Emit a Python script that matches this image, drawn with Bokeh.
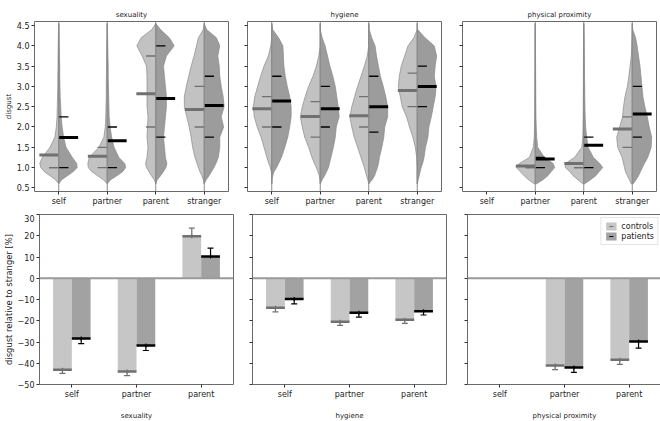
import math
from bokeh.plotting import figure
from bokeh.layouts import column, row
from bokeh.models import (Span, FixedTicker, CustomJSTickFormatter, Whisker, TeeHead,
                          ColumnDataSource, Legend, LegendItem, Range1d, CustomLabelingPolicy)
from bokeh.embed import file_html
from bokeh.resources import INLINE

NaN = float("nan")

# ---------------- data ----------------
DOMAINS = ["sexuality", "hygiene", "physical proximity"]
VIOLIN_CATS = ["self", "partner", "parent", "stranger"]
BAR_CATS = ["self", "partner", "parent"]
GROUPS = ["controls", "patients"]

Y_TICKS_TOP = [0.5, 1.0, 1.5, 2.0, 2.5, 3.0, 3.5, 4.0, 4.5]
Y_TICKS_BOT = [-50, -40, -30, -20, -10, 0, 10, 20, 30]
Y_TICK_LABELS_BOT = ["\u221250", "\u221240", "\u221230", "\u221220", "\u221210", "0", "10", "20", "30"]

# disgust levels at which the violin half-widths were read
Y_GRID = [0.6, 0.7, 0.8, 0.9, 1.0, 1.1, 1.25, 1.5, 1.75, 2.0, 2.25, 2.5, 2.75,
          3.0, 3.25, 3.5, 3.75, 4.0, 4.2, 4.4, 4.55]

# half-widths of the split violins (category order: self, partner, parent, stranger)
SEX_CONTROLS_WIDTH = [
    [0, 0.07, 0.18, 0.30, 0.37, 0.39, 0.34, 0.18, 0.08, 0.05, 0.035, 0.03, 0.025, 0.02, 0.02, 0.015, 0.015, 0.01, 0.008, 0.004, 0],
    [0, 0.08, 0.20, 0.32, 0.39, 0.40, 0.37, 0.17, 0.07, 0.04, 0.03, 0.025, 0.02, 0.02, 0.018, 0.015, 0.013, 0.01, 0.008, 0.004, 0],
    [0, 0.03, 0.09, 0.14, 0.19, 0.21, 0.18, 0.16, 0.18, 0.17, 0.16, 0.18, 0.18, 0.18, 0.18, 0.19, 0.28, 0.39, 0.30, 0.08, 0],
    [0, 0.02, 0.05, 0.09, 0.12, 0.15, 0.19, 0.24, 0.27, 0.31, 0.36, 0.41, 0.41, 0.37, 0.32, 0.27, 0.21, 0.16, 0.12, 0.02, 0],
]
SEX_PATIENTS_WIDTH = [
    [0, 0.06, 0.18, 0.30, 0.38, 0.37, 0.28, 0.15, 0.10, 0.07, 0.05, 0.04, 0.03, 0.025, 0.02, 0.02, 0.015, 0.01, 0.008, 0.004, 0],
    [0, 0.07, 0.20, 0.32, 0.38, 0.36, 0.24, 0.14, 0.09, 0.06, 0.04, 0.035, 0.03, 0.025, 0.02, 0.02, 0.015, 0.01, 0.008, 0.004, 0],
    [0, 0.03, 0.10, 0.16, 0.21, 0.23, 0.20, 0.18, 0.16, 0.18, 0.20, 0.22, 0.22, 0.20, 0.18, 0.16, 0.22, 0.38, 0.28, 0.10, 0],
    [0, 0.04, 0.10, 0.15, 0.20, 0.24, 0.29, 0.32, 0.32, 0.40, 0.35, 0.41, 0.39, 0.35, 0.32, 0.31, 0.28, 0.32, 0.25, 0.05, 0],
]
HYG_CONTROLS_WIDTH = [
    [0, 0, 0, 0.01, 0.03, 0.06, 0.10, 0.16, 0.22, 0.30, 0.36, 0.38, 0.35, 0.29, 0.23, 0.16, 0.07, 0.02, 0, 0, 0],
    [0, 0.005, 0.02, 0.05, 0.08, 0.12, 0.17, 0.24, 0.32, 0.37, 0.41, 0.37, 0.31, 0.24, 0.15, 0.08, 0.03, 0, 0, 0, 0],
    [0, 0.02, 0.045, 0.07, 0.09, 0.12, 0.16, 0.23, 0.30, 0.35, 0.39, 0.35, 0.29, 0.23, 0.16, 0.09, 0.03, 0, 0, 0, 0],
    [0, 0, 0, 0, 0, 0.005, 0.01, 0.04, 0.09, 0.16, 0.22, 0.31, 0.35, 0.39, 0.37, 0.33, 0.26, 0.19, 0.07, 0, 0],
]
HYG_PATIENTS_WIDTH = [
    [0, 0, 0.02, 0.05, 0.10, 0.14, 0.20, 0.27, 0.33, 0.37, 0.40, 0.40, 0.37, 0.32, 0.28, 0.25, 0.24, 0.23, 0.14, 0.02, 0],
    [0, 0.04, 0.09, 0.13, 0.17, 0.19, 0.22, 0.27, 0.31, 0.33, 0.39, 0.37, 0.34, 0.31, 0.26, 0.20, 0.15, 0.10, 0.04, 0, 0],
    [0, 0.07, 0.12, 0.15, 0.18, 0.20, 0.22, 0.27, 0.31, 0.33, 0.39, 0.39, 0.35, 0.30, 0.24, 0.20, 0.16, 0.13, 0.06, 0.01, 0],
    [0, 0.02, 0.04, 0.06, 0.08, 0.11, 0.14, 0.17, 0.22, 0.24, 0.29, 0.33, 0.37, 0.39, 0.35, 0.37, 0.40, 0.35, 0.16, 0.01, 0],
]
PHY_CONTROLS_WIDTH = [
    None,
    [0.02, 0.14, 0.23, 0.31, 0.39, 0.33, 0.12, 0.04, 0.02, 0.015, 0.012, 0.01, 0.01, 0.008, 0.008, 0.007, 0.006, 0.005, 0.004, 0.003, 0],
    [0.02, 0.12, 0.22, 0.29, 0.38, 0.38, 0.19, 0.04, 0.02, 0.015, 0.012, 0.01, 0.01, 0.008, 0.008, 0.007, 0.006, 0.005, 0.004, 0.003, 0],
    [0.02, 0.06, 0.10, 0.14, 0.16, 0.18, 0.21, 0.30, 0.32, 0.26, 0.20, 0.18, 0.15, 0.10, 0.07, 0.045, 0.02, 0.01, 0.005, 0, 0],
]
PHY_PATIENTS_WIDTH = [
    None,
    [0.03, 0.16, 0.26, 0.33, 0.40, 0.37, 0.19, 0.05, 0.03, 0.02, 0.015, 0.012, 0.01, 0.01, 0.008, 0.007, 0.006, 0.005, 0.004, 0.003, 0],
    [0.02, 0.14, 0.25, 0.32, 0.39, 0.33, 0.20, 0.09, 0.06, 0.04, 0.03, 0.025, 0.02, 0.02, 0.015, 0.015, 0.012, 0.01, 0.008, 0.004, 0],
    [0.02, 0.08, 0.13, 0.17, 0.21, 0.25, 0.32, 0.39, 0.40, 0.35, 0.31, 0.26, 0.22, 0.20, 0.18, 0.16, 0.13, 0.10, 0.07, 0.01, 0],
]

# summary lines in the violins: mean (thick) and quartiles (thin)
SEX_CONTROLS_MEAN = [1.31, 1.28, 2.82, 2.43]
SEX_CONTROLS_Q1 = [1.0, 1.0, 2.0, 2.0]
SEX_CONTROLS_Q3 = [1.0, 1.5, 3.75, 3.0]
SEX_PATIENTS_MEAN = [1.74, 1.66, 2.70, 2.53]
SEX_PATIENTS_Q1 = [1.0, 1.0, 1.75, 1.75]
SEX_PATIENTS_Q3 = [2.25, 2.0, 4.0, 3.25]

HYG_CONTROLS_MEAN = [2.45, 2.26, 2.28, 2.90]
HYG_CONTROLS_Q1 = [2.0, 1.75, 2.0, 2.5]
HYG_CONTROLS_Q3 = [2.75, 2.625, 2.75, 3.33]
HYG_PATIENTS_MEAN = [2.64, 2.45, 2.50, 3.00]
HYG_PATIENTS_Q1 = [2.0, 2.0, 1.875, 2.5]
HYG_PATIENTS_Q3 = [3.25, 3.0, 3.25, 3.5]

PHY_CONTROLS_MEAN = [NaN, 1.04, 1.10, 1.95]
PHY_CONTROLS_Q1 = [NaN, 1.0, 1.0, 1.5]
PHY_CONTROLS_Q3 = [NaN, 1.0, 1.0, 2.25]
PHY_PATIENTS_MEAN = [NaN, 1.21, 1.55, 2.32]
PHY_PATIENTS_Q1 = [NaN, 1.0, 1.0, 1.75]
PHY_PATIENTS_Q3 = [NaN, 1.25, 1.75, 3.0]

# disgust relative to stranger [%] (self, partner, parent) with error
SEX_CONTROLS_REL = [-43.1, -43.9, 19.8]
SEX_CONTROLS_ERR = [1.7, 1.9, 3.8]
SEX_PATIENTS_REL = [-28.3, -31.7, 10.2]
SEX_PATIENTS_ERR = [2.5, 2.3, 4.0]
HYG_CONTROLS_REL = [-13.9, -20.5, -19.5]
HYG_CONTROLS_ERR = [1.9, 1.7, 1.7]
HYG_PATIENTS_REL = [-9.8, -16.25, -15.5]
HYG_PATIENTS_ERR = [2.3, 2.0, 1.8]
PHY_CONTROLS_REL = [NaN, -41.1, -38.3]
PHY_CONTROLS_ERR = [NaN, 1.9, 2.2]
PHY_PATIENTS_REL = [NaN, -42.0, -29.8]
PHY_PATIENTS_ERR = [NaN, 2.3, 3.1]

WIDTHS = [(SEX_CONTROLS_WIDTH, SEX_PATIENTS_WIDTH), (HYG_CONTROLS_WIDTH, HYG_PATIENTS_WIDTH),
          (PHY_CONTROLS_WIDTH, PHY_PATIENTS_WIDTH)]
STATS = [((SEX_CONTROLS_MEAN, SEX_CONTROLS_Q1, SEX_CONTROLS_Q3), (SEX_PATIENTS_MEAN, SEX_PATIENTS_Q1, SEX_PATIENTS_Q3)),
         ((HYG_CONTROLS_MEAN, HYG_CONTROLS_Q1, HYG_CONTROLS_Q3), (HYG_PATIENTS_MEAN, HYG_PATIENTS_Q1, HYG_PATIENTS_Q3)),
         ((PHY_CONTROLS_MEAN, PHY_CONTROLS_Q1, PHY_CONTROLS_Q3), (PHY_PATIENTS_MEAN, PHY_PATIENTS_Q1, PHY_PATIENTS_Q3))]
RELS = [((SEX_CONTROLS_REL, SEX_CONTROLS_ERR), (SEX_PATIENTS_REL, SEX_PATIENTS_ERR)),
        ((HYG_CONTROLS_REL, HYG_CONTROLS_ERR), (HYG_PATIENTS_REL, HYG_PATIENTS_ERR)),
        ((PHY_CONTROLS_REL, PHY_CONTROLS_ERR), (PHY_PATIENTS_REL, PHY_PATIENTS_ERR))]

# ---------------- style ----------------
FONT = "DejaVu Sans"
FS_TICK = "8px"
FS_TITLE = "7px"
FS_YLAB_TOP = "7px"
FS_YLAB_BOT = "8.4px"
FS_LEG = "8px"
C_FILL, P_FILL = "#c2c2c2", "#9c9c9c"
C_BAR, P_BAR = "#c6c6c6", "#a2a2a2"
C_LINE, P_LINE = "#707070", "#000000"
EDGE = "#8a8a8a"
FRAME_W, FRAME_H = 194, 170
ML = [34, 17, 19]
MR = 2
TOP_MT, TOP_MB = 21, 23
BOT_MT, BOT_MB = 0, 34
VIOLIN_HALF = 0.4
BAR_W = 0.29

NO_LABELS = CustomLabelingPolicy(code="""
try {
  for (const i of Array.from(indices)) { indices.unset(i) }
  return indices
} catch (e) {
  return indices
}
""")


def style(p, show_ylabels):
    p.outline_line_color = "#6a6a6a"
    p.outline_line_width = 1
    p.grid.visible = False
    p.background_fill_color = "white"
    p.border_fill_color = "white"
    for ax in p.axis:
        ax.axis_line_color = None
        ax.major_tick_line_color = "#333333"
        ax.major_tick_out = 3
        ax.major_tick_in = 0
        ax.minor_tick_line_color = None
        ax.major_label_text_font = FONT
        ax.major_label_text_font_size = FS_TICK
        ax.major_label_text_color = "#222222"
        ax.major_label_standoff = 2
        ax.axis_label_text_font = FONT
        ax.axis_label_text_font_size = FS_TITLE
        ax.axis_label_text_font_style = "normal"
        ax.axis_label_text_color = "#222222"
        ax.axis_label_standoff = 1
    if not show_ylabels:
        p.yaxis.major_label_policy = NO_LABELS
        p.yaxis.major_label_text_font_size = "0px"


def violin_panel(col):
    p = figure(frame_width=FRAME_W, frame_height=FRAME_H,
               x_range=Range1d(-0.5, 3.5), y_range=Range1d(0.41, 4.6),
               output_backend="svg", toolbar_location=None, title=DOMAINS[col],
               min_border_left=ML[col], min_border_right=MR,
               min_border_top=TOP_MT, min_border_bottom=TOP_MB)
    style(p, col == 0)
    p.title.align = "center"
    p.title.vertical_align = "top"
    p.title.text_font = FONT
    p.title.text_font_size = FS_TITLE
    p.title.text_font_style = "normal"
    p.title.text_color = "#222222"
    p.title.standoff = 2
    wc_all, wp_all = WIDTHS[col]
    for widths, sign, fill in ((wc_all, -1, C_FILL), (wp_all, 1, P_FILL)):
        xs, ys = [], []
        for i, w in enumerate(widths):
            if w is None:
                continue
            xs.append([i + sign * v for v in w] + [i, i])
            ys.append(list(Y_GRID) + [Y_GRID[-1], Y_GRID[0]])
        p.patches(xs, ys, fill_color=fill, line_color=EDGE, line_width=0.7)
    for i, w in enumerate(wc_all):
        if w is not None:
            p.add_layout(Span(location=i, dimension="height", line_color="#8a8a8a", line_width=1))
    for (mean, q1, q3), sign, color in ((STATS[col][0], -1, C_LINE), (STATS[col][1], 1, P_LINE)):
        idx = [i for i in range(4) if not math.isnan(mean[i])]
        p.segment(x0=idx, x1=[i + sign * VIOLIN_HALF for i in idx], y0=[mean[i] for i in idx],
                  y1=[mean[i] for i in idx], line_color=color, line_width=3)
        qx = idx + idx
        qy = [q1[i] for i in idx] + [q3[i] for i in idx]
        p.segment(x0=qx, x1=[i + sign * VIOLIN_HALF / 2 for i in qx], y0=qy, y1=qy,
                  line_color=color, line_width=1.3)
    p.xaxis.ticker = FixedTicker(ticks=list(range(len(VIOLIN_CATS))))
    p.xaxis.major_label_overrides = {i: c for i, c in enumerate(VIOLIN_CATS)}
    p.yaxis.ticker = FixedTicker(ticks=Y_TICKS_TOP)
    p.yaxis.formatter = CustomJSTickFormatter(code="return tick.toFixed(1)")
    if col == 0:
        p.yaxis.axis_label = "disgust"
        p.yaxis.axis_label_text_font_size = FS_YLAB_TOP
    return p


def bar_panel(col):
    p = figure(frame_width=FRAME_W, frame_height=FRAME_H,
               x_range=Range1d(-0.5, 2.5), y_range=Range1d(-50, 30),
               output_backend="svg", toolbar_location=None,
               min_border_left=ML[col], min_border_right=MR,
               min_border_top=BOT_MT, min_border_bottom=BOT_MB)
    style(p, col == 0)
    p.add_layout(Span(location=0, dimension="width", line_color="#9a9a9a", line_width=2))
    rends = []
    for (rel, err), sign, fill, lc in ((RELS[col][0], -1, C_BAR, C_LINE), (RELS[col][1], 1, P_BAR, P_LINE)):
        idx = [i for i in range(3) if not math.isnan(rel[i])]
        xc = [i + sign * BAR_W / 2 for i in idx]
        src = ColumnDataSource(dict(x=xc, top=[rel[i] for i in idx],
                                    x0=[x - BAR_W / 2 for x in xc],
                                    x1=[x + BAR_W / 2 for x in xc],
                                    lower=[rel[i] - err[i] for i in idx],
                                    upper=[rel[i] + err[i] for i in idx]))
        r = p.vbar(x="x", top="top", bottom=0, width=BAR_W, source=src,
                   fill_color=fill, line_color=None)
        p.segment(x0="x0", x1="x1", y0="top", y1="top", source=src, line_color=lc, line_width=2.5)
        wk = Whisker(source=src, base="x", upper="upper", lower="lower", dimension="height",
                     line_color=lc, line_width=1.2,
                     upper_head=TeeHead(size=6, line_color=lc, line_width=1.2),
                     lower_head=TeeHead(size=6, line_color=lc, line_width=1.2))
        p.add_layout(wk)
        s = p.scatter(x="x", y="top", source=src, marker="dash", angle=math.pi / 2,
                      size=4, line_color=lc, line_width=1.2)
        rends.append((r, s))
    p.xaxis.ticker = FixedTicker(ticks=list(range(len(BAR_CATS))))
    p.xaxis.major_label_overrides = {i: c for i, c in enumerate(BAR_CATS)}
    p.xaxis.axis_label = DOMAINS[col]
    p.xaxis.axis_label_standoff = 10
    p.yaxis.ticker = FixedTicker(ticks=Y_TICKS_BOT)
    p.yaxis.major_label_overrides = {t: l for t, l in zip(Y_TICKS_BOT, Y_TICK_LABELS_BOT)}
    if col == 0:
        p.yaxis.axis_label = "disgust relative to stranger [%]"
        p.yaxis.axis_label_text_font_size = FS_YLAB_BOT
    if col == 2:
        leg = Legend(items=[LegendItem(label=GROUPS[0], renderers=list(rends[0])),
                            LegendItem(label=GROUPS[1], renderers=list(rends[1]))],
                     location="top_right")
        leg.label_text_font = FONT
        leg.label_text_font_size = FS_LEG
        leg.label_text_color = "#222222"
        leg.glyph_width = 13
        leg.glyph_height = 10
        leg.label_height = 9
        leg.spacing = 0
        leg.padding = 3
        leg.margin = 3
        leg.label_standoff = 4
        leg.border_line_color = "#cccccc"
        leg.background_fill_alpha = 0.8
        p.add_layout(leg, "center")
    return p


top = row(*[violin_panel(c) for c in range(3)])
bottom = row(*[bar_panel(c) for c in range(3)])
layout = column(top, bottom)

with open("out.html", "w") as f:
    f.write(file_html(layout, INLINE))
